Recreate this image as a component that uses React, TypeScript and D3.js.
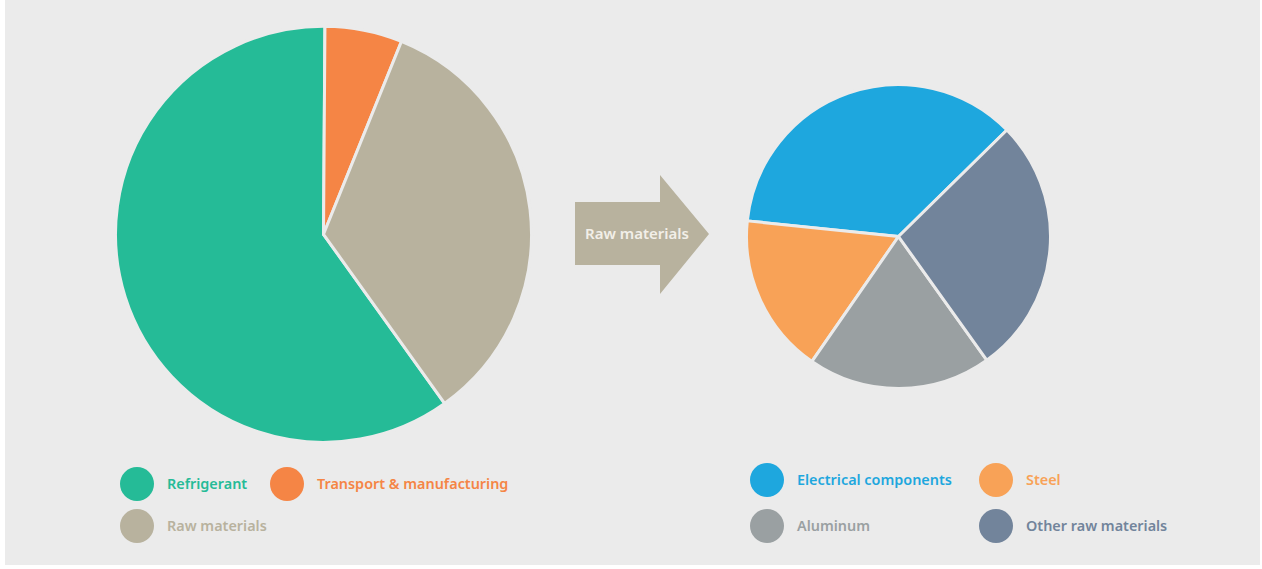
import React from "react";
import * as d3 from "d3";

const leftCategories = ["Refrigerant", "Transport & manufacturing", "Raw materials"];
const leftValues = [60, 6, 34];
const leftColors = ["#25bb97", "#f58545", "#b8b29e"];

const rightCategories = ["Electrical components", "Steel", "Aluminum", "Other raw materials"];
const rightValues = [36, 17, 19.5, 27.5];
const rightColors = ["#1ea7de", "#f8a257", "#9aa0a2", "#72849b"];

const arrowLabel = "Raw materials";

const BG = "#ebebeb";
const FONT = "'Noto Sans', sans-serif";
const deg = Math.PI / 180;

function Pie({ cx, cy, r, values, colors, start, end }: { cx: number; cy: number; r: number; values: number[]; colors: string[]; start: number; end: number }) {
  const pie = d3.pie<number>().sort(null).value((d) => d).startAngle(start).endAngle(end);
  const arc = d3.arc<d3.PieArcDatum<number>>().innerRadius(0).outerRadius(r);
  const arcs = pie(values);
  return (
    <g transform={`translate(${cx},${cy})`}>
      {arcs.map((a, i) => (
        <path key={i} d={arc(a) || ""} fill={colors[i]} stroke={BG} strokeWidth={3} strokeLinejoin="round" />
      ))}
    </g>
  );
}

function Legend({ items, colors, x0, y0, colW, rowH, cols }: { items: string[]; colors: string[]; x0: number; y0: number; colW: number[]; rowH: number; cols: number }) {
  return (
    <g>
      {items.map((t, i) => {
        const c = i % cols;
        const r = Math.floor(i / cols);
        const x = x0 + colW.slice(0, c).reduce((s, v) => s + v, 0);
        const y = y0 + r * rowH;
        return (
          <g key={t} transform={`translate(${x},${y})`}>
            <circle cx={0} cy={0} r={17} fill={colors[i]} />
            <text x={30} y={0} dy="0.35em" fill={colors[i]} fontFamily={FONT} fontWeight={600} fontSize={14.4}>
              {t}
            </text>
          </g>
        );
      })}
    </g>
  );
}

export default function App() {
  const arrowPath = d3.path();
  arrowPath.moveTo(575, 202);
  arrowPath.lineTo(660, 202);
  arrowPath.lineTo(660, 175);
  arrowPath.lineTo(709, 234);
  arrowPath.lineTo(660, 294);
  arrowPath.lineTo(660, 265);
  arrowPath.lineTo(575, 265);
  arrowPath.closePath();

  return (
    <svg width={1262} height={569} style={{ position: "absolute", left: 0, top: 0, background: "#ffffff" }}>
      <rect x={5} y={0} width={1255} height={565} fill={BG} />
      <Pie cx={323.5} cy={234.3} r={208} values={leftValues} colors={leftColors} start={144.4 * deg} end={504.4 * deg} />
      <Pie cx={898.5} cy={236.5} r={152} values={rightValues} colors={rightColors} start={45.5 * deg} end={(45.5 - 360) * deg} />
      <path d={arrowPath.toString()} fill="#b8b29e" />
      <text x={637} y={234} dy="0.35em" textAnchor="middle" fill="#f2efe8" fontFamily={FONT} fontWeight={600} fontSize={15}>
        {arrowLabel}
      </text>
      <Legend items={leftCategories} colors={leftColors} x0={137} y0={484} colW={[150]} rowH={42} cols={2} />
      <Legend items={rightCategories} colors={rightColors} x0={767} y0={480} colW={[229]} rowH={46} cols={2} />
    </svg>
  );
}
